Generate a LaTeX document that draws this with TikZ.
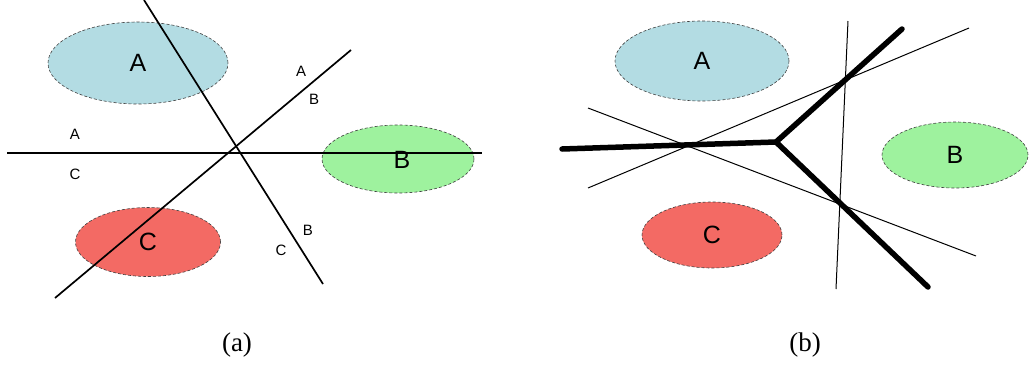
\documentclass[tikz,border=0pt]{standalone}
\usepackage{fontspec}
\setmainfont{Liberation Serif}
\setsansfont{Liberation Sans}
\usetikzlibrary{shapes.geometric}
\definecolor{RegionBlue}{HTML}{B3DCE3}
\definecolor{RegionGreen}{HTML}{9EF29E}
\definecolor{RegionRed}{HTML}{F36A64}

\begin{document}
\begin{tikzpicture}[
  x=1pt,y=-1pt,
  region/.style={ellipse,draw=black!75,densely dashed,line width=0.6pt,
    inner sep=0pt,font=\sffamily\fontsize{25}{25}\selectfont},
  side/.style={font=\sffamily\fontsize{15}{15}\selectfont,inner sep=0pt},
  cut/.style={draw=black,line width=1.7pt},
  thincut/.style={draw=black,line width=1pt},
  bound/.style={draw=black,line width=5.5pt,line cap=round,line join=miter},
  caption/.style={font=\fontsize{27}{27}\selectfont}
]
\useasboundingbox (0,0) rectangle (1029,367);

% (a) pairwise separating lines
\node[region,fill=RegionBlue,minimum width=180,minimum height=82] (la) at (138,63) {A};
\node[region,fill=RegionGreen,minimum width=152,minimum height=68] (lb) at (398,159) {};
\node[region,fill=RegionRed,minimum width=145,minimum height=69] (lc) at (148,242) {};

\coordinate (h1) at (7,153);
\coordinate (h2) at (482,153);
\coordinate (s1) at (144,0);
\coordinate (s2) at (323,284);
\coordinate (p1) at (55,298);
\coordinate (p2) at (351,50);
\draw[cut] (h1) -- (h2);
\draw[cut] (s1) -- (s2);
\draw[cut] (p1) -- (p2);
\node[font=\sffamily\fontsize{25}{25}\selectfont] (lbt) at (402,160) {B};
\node[font=\sffamily\fontsize{25}{25}\selectfont] (lct) at (148,242) {C};

\node[side] (abA) at (301,71) {A};
\node[side] (abB) at (314,99) {B};
\node[side] (acA) at (75,134) {A};
\node[side] (acC) at (75,174) {C};
\node[side] (bcB) at (308,230) {B};
\node[side] (bcC) at (281,250) {C};

% (b) decision boundaries
\node[region,fill=RegionBlue,minimum width=174,minimum height=80] (ra) at (702,61) {A};
\node[region,fill=RegionGreen,minimum width=146,minimum height=66] (rb) at (955,155) {B};
\node[region,fill=RegionRed,minimum width=140,minimum height=66] (rc) at (712,235) {C};

\coordinate (t1) at (588,108);
\coordinate (t2) at (976,256);
\coordinate (u1) at (588,188);
\coordinate (u2) at (969,28);
\coordinate (v1) at (848,21);
\coordinate (v2) at (836,289);
\draw[thincut] (t1) -- (t2);
\draw[thincut] (u1) -- (u2);
\draw[thincut] (v1) -- (v2);

\coordinate (joint) at (776,142);
\coordinate (endac) at (562,149);
\coordinate (endab) at (902,29);
\coordinate (endbc) at (928,287);
\draw[bound] (endac) -- (joint) -- (endab);
\draw[bound] (joint) -- (endbc);

\node[caption] (capa) at (237,345) {(a)};
\node[caption] (capb) at (805,345) {(b)};
\end{tikzpicture}
\end{document}
